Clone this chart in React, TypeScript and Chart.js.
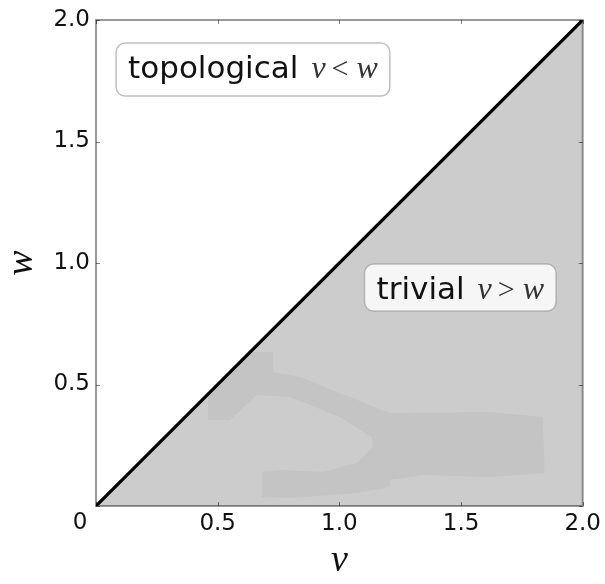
import React, { useEffect, useRef } from "react";
import { Chart, registerables } from "chart.js";

Chart.register(...registerables);

// ---- data ----
const tickValues = [0, 0.5, 1.0, 1.5, 2.0];
const tickLabels = ["", "0.5", "1.0", "1.5", "2.0"];
const cornerLabel = "0";

// trivial phase region (v > w)
const trivialV = [0, 2, 2];
const trivialW = [0, 0, 2];
// topological phase region (v < w)
const topologicalV = [0, 0, 2];
const topologicalW = [0, 2, 2];
// phase boundary v = w
const boundaryV = [0, 2];
const boundaryW = [0, 2];
// slightly darker contour level inside trivial region
const blobV = [0.46, 0.727, 0.727, 0.838, 1.002, 1.207, 1.618, 1.836, 1.844, 1.618, 1.343, 1.207, 1.207, 1.072, 0.797, 0.682, 0.682, 0.768, 0.932, 1.072, 1.138, 1.133, 1.002, 0.797, 0.661, 0.55, 0.46];
const blobW = [0.634, 0.634, 0.551, 0.531, 0.465, 0.383, 0.387, 0.366, 0.136, 0.119, 0.128, 0.107, 0.078, 0.053, 0.033, 0.037, 0.14, 0.148, 0.14, 0.177, 0.243, 0.284, 0.366, 0.449, 0.457, 0.354, 0.354];

// annotations
const annotationText = ["topological", "trivial"];
const annotationRel = ["<", ">"];
const annotationV = [0.645, 1.497];
const annotationW = [1.796, 0.899];

const toPoints = (xs: number[], ys: number[]) => xs.map((x, i) => ({ x, y: ys[i] }));

const TICK_FONT = "'DejaVu Sans', sans-serif";
const MATH_FONT = "'Liberation Serif', serif";

const framePlugin = {
  id: "frame",
  afterDatasetsDraw(chart: any) {
    const { ctx, chartArea: a, scales } = chart;
    const xs = scales.x;
    const ys = scales.y;
    ctx.save();
    ctx.strokeStyle = "rgba(0,0,0,0.5)";
    ctx.lineWidth = 1;
    const L = 4;
    tickValues.forEach((v) => {
      const px = Math.round(xs.getPixelForValue(v)) + 0.5;
      const py = Math.round(ys.getPixelForValue(v)) + 0.5;
      ctx.beginPath();
      ctx.moveTo(px, a.bottom);
      ctx.lineTo(px, a.bottom - L);
      ctx.moveTo(px, a.top);
      ctx.lineTo(px, a.top + L);
      ctx.moveTo(a.left, py);
      ctx.lineTo(a.left + L, py);
      ctx.moveTo(a.right, py);
      ctx.lineTo(a.right - L, py);
      ctx.stroke();
    });
    ctx.strokeStyle = "rgba(0,0,0,0.4)";
    ctx.lineWidth = 2;
    ctx.strokeRect(a.left, a.top, a.right - a.left, a.bottom - a.top);
    ctx.fillStyle = "#111";
    ctx.font = `23px ${TICK_FONT}`;
    ctx.textAlign = "center";
    ctx.textBaseline = "middle";
    ctx.fillText(cornerLabel, xs.getPixelForValue(0) - 16, a.bottom + 17);
    ctx.restore();
  },
};

function roundRect(ctx: CanvasRenderingContext2D, x: number, y: number, w: number, h: number, r: number) {
  ctx.beginPath();
  ctx.moveTo(x + r, y);
  ctx.lineTo(x + w - r, y);
  ctx.arcTo(x + w, y, x + w, y + r, r);
  ctx.lineTo(x + w, y + h - r);
  ctx.arcTo(x + w, y + h, x + w - r, y + h, r);
  ctx.lineTo(x + r, y + h);
  ctx.arcTo(x, y + h, x, y + h - r, r);
  ctx.lineTo(x, y + r);
  ctx.arcTo(x, y, x + r, y, r);
  ctx.closePath();
}

const annotationPlugin = {
  id: "annotations",
  afterDraw(chart: any) {
    const { ctx, scales } = chart;
    const textFont = `31px ${TICK_FONT}`;
    const italic = `italic 32px ${MATH_FONT}`;
    const upright = `30px ${MATH_FONT}`;
    annotationText.forEach((t, i) => {
      const cx = scales.x.getPixelForValue(annotationV[i]);
      const cy = scales.y.getPixelForValue(annotationW[i]);
      ctx.save();
      const pieces = [
        { s: t, f: textFont, gapAfter: 13 },
        { s: "v", f: italic, gapAfter: 6 },
        { s: annotationRel[i], f: upright, gapAfter: 8 },
        { s: "w", f: italic, gapAfter: 0 },
      ];
      let total = 0;
      let asc = 0;
      let desc = 0;
      const widths: number[] = [];
      pieces.forEach((p) => {
        ctx.font = p.f;
        const m = ctx.measureText(p.s);
        widths.push(m.width);
        total += m.width + p.gapAfter;
        asc = Math.max(asc, m.actualBoundingBoxAscent);
        desc = Math.max(desc, m.actualBoundingBoxDescent);
      });
      const pad = 12;
      const bx = cx - total / 2 - pad;
      const bh = asc + desc + 2 * pad;
      const by = cy - bh / 2;
      roundRect(ctx, bx, by, total + 2 * pad, bh, 9);
      ctx.fillStyle = "rgba(255,255,255,0.82)";
      ctx.fill();
      ctx.strokeStyle = "rgba(150,150,150,0.6)";
      ctx.lineWidth = 1.5;
      ctx.stroke();
      let x = cx - total / 2;
      const baseline = by + pad + asc;
      ctx.textAlign = "left";
      ctx.textBaseline = "alphabetic";
      pieces.forEach((p, k) => {
        ctx.font = p.f;
        ctx.fillStyle = k === 0 ? "#111" : "#333";
        ctx.fillText(p.s, x, baseline);
        x += widths[k] + p.gapAfter;
      });
      ctx.restore();
    });
  },
};

export default function App() {
  const canvasRef = useRef<HTMLCanvasElement | null>(null);

  useEffect(() => {
    document.body.style.margin = "0";
    const canvas = canvasRef.current;
    if (!canvas) return;
    const chart = new Chart(canvas, {
      type: "scatter",
      data: {
        datasets: [
          {
            label: "boundary",
            data: toPoints(boundaryV, boundaryW),
            showLine: true,
            borderColor: "#000",
            borderWidth: 3.2,
            pointRadius: 0,
            fill: false,
            order: 1,
          },
          {
            label: "topological",
            data: toPoints(topologicalV, topologicalW),
            showLine: true,
            borderWidth: 0,
            borderColor: "rgba(0,0,0,0)",
            backgroundColor: "#ffffff",
            pointRadius: 0,
            fill: "shape",
            order: 2,
          },
          {
            label: "contour",
            data: toPoints(blobV, blobW),
            showLine: true,
            borderWidth: 0,
            borderColor: "rgba(0,0,0,0)",
            backgroundColor: "#c4c4c4",
            pointRadius: 0,
            fill: "shape",
            order: 3,
          },
          {
            label: "trivial",
            data: toPoints(trivialV, trivialW),
            showLine: true,
            borderWidth: 0,
            borderColor: "rgba(0,0,0,0)",
            backgroundColor: "#cccccc",
            pointRadius: 0,
            fill: "shape",
            order: 4,
          },
        ],
      },
      options: {
        animation: false,
        responsive: false,
        events: [],
        layout: { padding: { top: 20, right: 22, left: 0, bottom: 0 } },
        plugins: {
          legend: { display: false },
          tooltip: { enabled: false },
        },
        scales: {
          x: {
            type: "linear",
            position: "bottom",
            min: 0,
            max: 2,
            afterBuildTicks: (s: any) => {
              s.ticks = tickValues.map((v) => ({ value: v }));
            },
            afterFit: (s: any) => {
              s.height = 78;
            },
            grid: { display: false, drawTicks: false },
            border: { display: false },
            ticks: {
              padding: 4,
              maxRotation: 0,
              color: "#111",
              font: { family: TICK_FONT, size: 23 },
              callback: (_v: any, i: number) => tickLabels[i],
            },
            title: {
              display: true,
              text: "v",
              color: "#111",
              font: { family: MATH_FONT, size: 38, style: "italic", lineHeight: 1 },
              padding: { top: 0, bottom: 4 },
            },
          },
          y: {
            type: "linear",
            position: "left",
            min: 0,
            max: 2,
            afterBuildTicks: (s: any) => {
              s.ticks = tickValues.map((v) => ({ value: v }));
            },
            afterFit: (s: any) => {
              s.width = 96;
            },
            grid: { display: false, drawTicks: false },
            border: { display: false },
            ticks: {
              padding: 6,
              color: "#111",
              font: { family: TICK_FONT, size: 23 },
              callback: (_v: any, i: number) => tickLabels[i],
            },
            title: {
              display: true,
              text: "w",
              color: "#111",
              font: { family: MATH_FONT, size: 38, style: "italic", lineHeight: 1 },
              padding: { top: 3, bottom: 0 },
            },
          },
        },
      },
      plugins: [framePlugin, annotationPlugin],
    });
    return () => chart.destroy();
  }, []);

  return (
    <div style={{ width: 605, height: 584 }}>
      <canvas ref={canvasRef} width={605} height={584} style={{ display: "block" }} />
    </div>
  );
}
